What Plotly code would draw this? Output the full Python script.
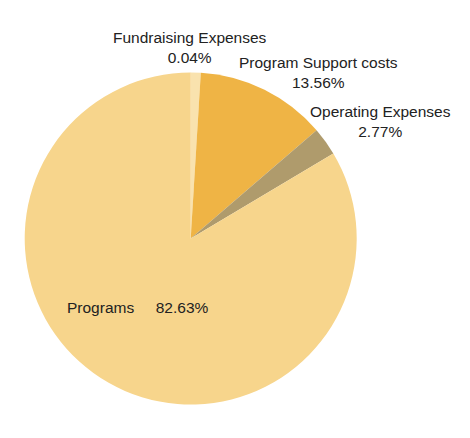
import plotly.graph_objects as go

# slice order: clockwise from 12 o'clock
labels = ["Fundraising Expenses", "Program Support costs", "Operating Expenses", "Programs"]
# slice sizes as drawn in the chart (printed labels below differ slightly)
values = [0.97, 12.73, 2.75, 83.55]
pct_text = ["0.04%", "13.56%", "2.77%", "82.63%"]
colors = ["#F9E2AE", "#EFB445", "#AF9B6C", "#F7D58C"]

W, H = 470, 438
OFF = 8  # page body margin


def px_x(x):
    return (x - OFF) / W


def px_y(y):
    return 1 - (y - OFF) / H


fig = go.Figure(go.Pie(
    labels=labels, values=values, sort=False, direction="clockwise", rotation=0,
    marker=dict(colors=colors, line=dict(width=0)),
    textinfo="none", hoverinfo="label+percent", showlegend=False,
    domain=dict(x=[px_x(24.7), px_x(356.7)], y=[px_y(404.5), px_y(72.5)]),
))

# label positions in page pixels (centre x, centre y)
label_pos = [(190, 47), (318, 73), (380, 121)]
for (px, py), name, pct in zip(label_pos, labels[:3], pct_text[:3]):
    fig.add_annotation(
        x=px_x(px), y=px_y(py), xref="paper", yref="paper", showarrow=False,
        text=name + "<br>" + pct, align="center", xanchor="center", yanchor="middle",
    )
fig.add_annotation(
    x=px_x(138), y=px_y(307), xref="paper", yref="paper", showarrow=False,
    text=labels[3] + "&nbsp;&nbsp;&nbsp;&nbsp;&nbsp;" + pct_text[3],
    xanchor="center", yanchor="middle",
)

fig.update_layout(
    width=W, height=H, margin=dict(l=0, r=0, t=0, b=0),
    paper_bgcolor="white", plot_bgcolor="white",
    font=dict(family="Liberation Sans, Arial, sans-serif", size=15.5, color="#222222"),
)

fig.write_html("out.html")
